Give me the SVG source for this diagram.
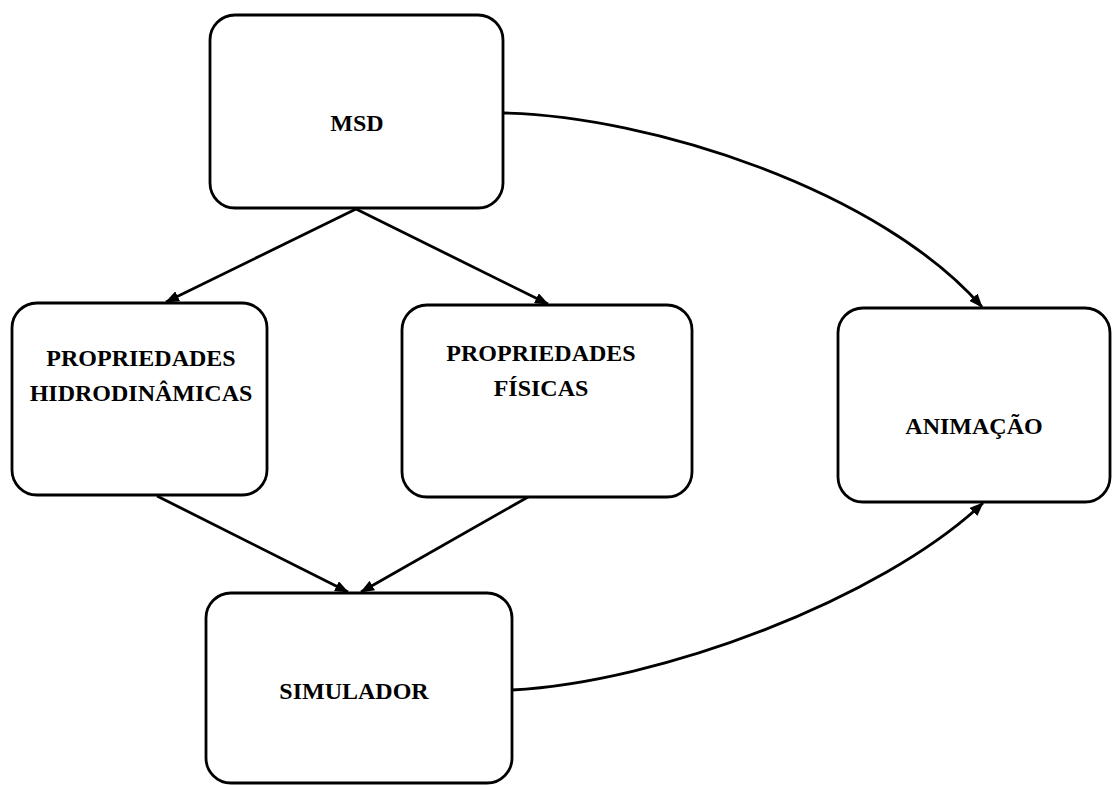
<svg xmlns="http://www.w3.org/2000/svg" width="1116" height="785" viewBox="0 0 1116 785">
<style>
.box{fill:#fff;stroke:#000;stroke-width:2.8}
.t{font-family:"Liberation Serif","Times New Roman",serif;font-weight:bold;font-size:24px;fill:#000;text-anchor:middle}
.c{fill:none;stroke:#000;stroke-width:2.8}
</style>
<defs>
<marker id="ah" viewBox="0 0 14 11" refX="13" refY="5.5" markerWidth="14" markerHeight="11" markerUnits="userSpaceOnUse" orient="auto">
<path d="M0,0 L14,5.5 L0,11 Z" fill="#000"/>
</marker>
</defs>
<rect width="1116" height="785" fill="#fff"/>
<g id="connectors">
<path class="c" d="M356,209 L166,302" marker-end="url(#ah)"/>
<path class="c" d="M356,209 L548,304" marker-end="url(#ah)"/>
<path class="c" d="M157,496 L348,592" marker-end="url(#ah)"/>
<path class="c" d="M528,497 L361,592" marker-end="url(#ah)"/>
<path class="c" d="M503,113 C650,116 880,190 982,307" marker-end="url(#ah)"/>
<path class="c" d="M512,690 C660,682 880,600 983,503" marker-end="url(#ah)"/>
</g>
<g id="msd">
<rect class="box" x="210" y="15" width="293" height="193" rx="25"/>
<text class="t" x="357" y="131">MSD</text>
</g>
<g id="hidro">
<rect class="box" x="12" y="303" width="255" height="192" rx="25"/>
<text class="t" x="141" y="366">PROPRIEDADES</text>
<text class="t" x="141" y="401">HIDRODINÂMICAS</text>
</g>
<g id="fisicas">
<rect class="box" x="402" y="305" width="290" height="192" rx="25"/>
<text class="t" x="541" y="361">PROPRIEDADES</text>
<text class="t" x="541" y="396">FÍSICAS</text>
</g>
<g id="animacao">
<rect class="box" x="838" y="308" width="272" height="194" rx="25"/>
<text class="t" x="974" y="434">ANIMAÇÃO</text>
</g>
<g id="simulador">
<rect class="box" x="206" y="593" width="306" height="190" rx="25"/>
<text class="t" x="354" y="699">SIMULADOR</text>
</g>
</svg>
